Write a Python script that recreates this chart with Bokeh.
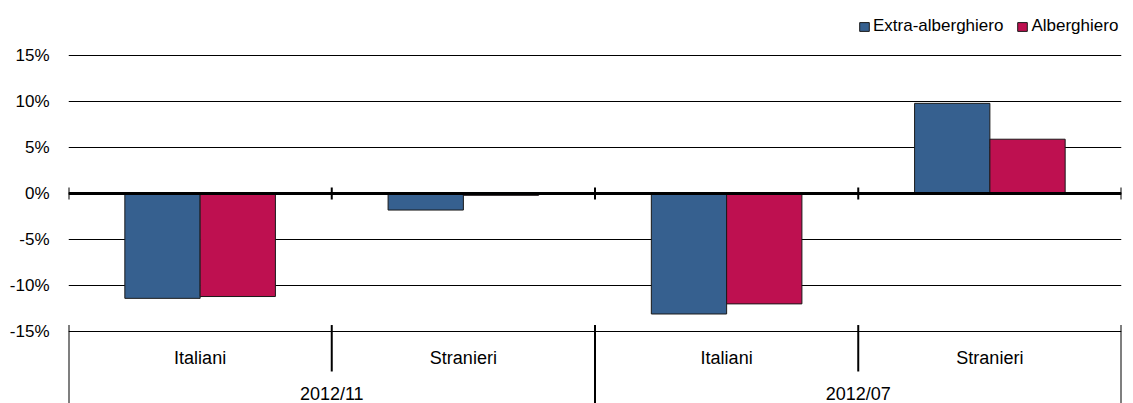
from bokeh.plotting import figure
from bokeh.models import (FactorRange, Range1d, ColumnDataSource, FixedTicker,
                          PrintfTickFormatter, Span, Legend, LegendItem)
from bokeh.transform import dodge
from bokeh.core.properties import value
from bokeh.embed import file_html
from bokeh.resources import INLINE

# ---- data ----
groups = ["2012/11", "2012/07"]
subgroups = ["Italiani", "Stranieri"]
series_names = ["Extra-alberghiero", "Alberghiero"]
extra_alberghiero = [-11.4, -1.8, -13.1, 9.8]
alberghiero = [-11.2, -0.2, -12.0, 5.9]
y_ticks = [-15, -10, -5, 0, 5, 10, 15]

BLUE = "#36608F"
RED = "#BE1050"
FONT = "Liberation Sans"
FS = "17px"
FS_CAT = "18px"

factors = [(g, s) for g in groups for s in subgroups]
source = ColumnDataSource(dict(x=factors, extra=extra_alberghiero, alb=alberghiero))

x_range = FactorRange(*factors, group_padding=0, factor_padding=0, range_padding=0)
y_bottom, y_top = -22.83, 20.98
p = figure(width=1133, height=403, x_range=x_range, y_range=Range1d(y_bottom, y_top),
           output_backend="svg", toolbar_location=None, x_axis_location=None,
           min_border_left=68, min_border_right=12, min_border_top=0, min_border_bottom=0)
p.outline_line_color = None
p.background_fill_color = "white"

# y axis
p.yaxis.ticker = FixedTicker(ticks=y_ticks)
p.yaxis.formatter = PrintfTickFormatter(format="%d%%")
p.yaxis.axis_line_color = None
p.yaxis.major_tick_line_color = None
p.yaxis.minor_tick_line_color = None
p.yaxis.major_tick_out = 0
p.yaxis.major_tick_in = 0
p.yaxis.major_label_standoff = 19
p.yaxis.major_label_text_font = FONT
p.yaxis.major_label_text_font_size = FS
p.yaxis.major_label_text_color = "black"
p.ygrid.grid_line_color = "black"
p.ygrid.grid_line_width = 1
p.xgrid.grid_line_color = None

bw = 0.286
r1 = p.vbar(x=dodge("x", -bw / 2, range=p.x_range), top="extra", bottom=0, width=bw,
            source=source, fill_color=BLUE, line_color="#1a1a1a", line_width=1)
r2 = p.vbar(x=dodge("x", bw / 2, range=p.x_range), top="alb", bottom=0, width=bw,
            source=source, fill_color=RED, line_color="#1a1a1a", line_width=1)

# zero line
p.add_layout(Span(location=0, dimension="width", line_color="black", line_width=3))

# boundaries between categories
bounds = [(g, s, -0.5) for (g, s) in factors] + [factors[-1] + (0.5,)]
p.segment(x0=bounds, y0=[-0.65] * len(bounds), x1=bounds, y1=[0.65] * len(bounds),
          line_color="black", line_width=2)

group_bounds = [(g, subgroups[0], -0.5) for g in groups] + [(groups[-1], subgroups[-1], 0.5)]
p.segment(x0=group_bounds, y0=[-14.3] * len(group_bounds), x1=group_bounds,
          y1=[y_bottom] * len(group_bounds), line_color="black", line_width=2)
sub_bounds = [(g, s, -0.5) for g in groups for s in subgroups[1:]]
p.segment(x0=sub_bounds, y0=[-14.3] * len(sub_bounds), x1=sub_bounds,
          y1=[-19.35] * len(sub_bounds), line_color="black", line_width=2)

# category labels
p.text(x=factors, y=[-17.88] * len(factors), text=[s for (g, s) in factors],
       text_align="center", text_baseline="middle", text_font=value(FONT),
       text_font_size=FS_CAT, text_color="black")
group_centers = [(g, subgroups[-1], -0.5) for g in groups]
p.text(x=group_centers, y=[-21.8] * len(groups), text=groups,
       text_align="center", text_baseline="middle", text_font=value(FONT),
       text_font_size=FS_CAT, text_color="black")

legend = Legend(items=[LegendItem(label=series_names[0], renderers=[r1]),
                       LegendItem(label=series_names[1], renderers=[r2])],
                orientation="horizontal", location=(790, 367),
                glyph_width=12, glyph_height=11, label_standoff=3, spacing=13,
                padding=0, margin=0, border_line_color=None, background_fill_alpha=0,
                label_text_font=FONT, label_text_font_size=FS, label_text_color="black")
p.add_layout(legend, "center")

open("out.html", "w").write(file_html(p, INLINE))
